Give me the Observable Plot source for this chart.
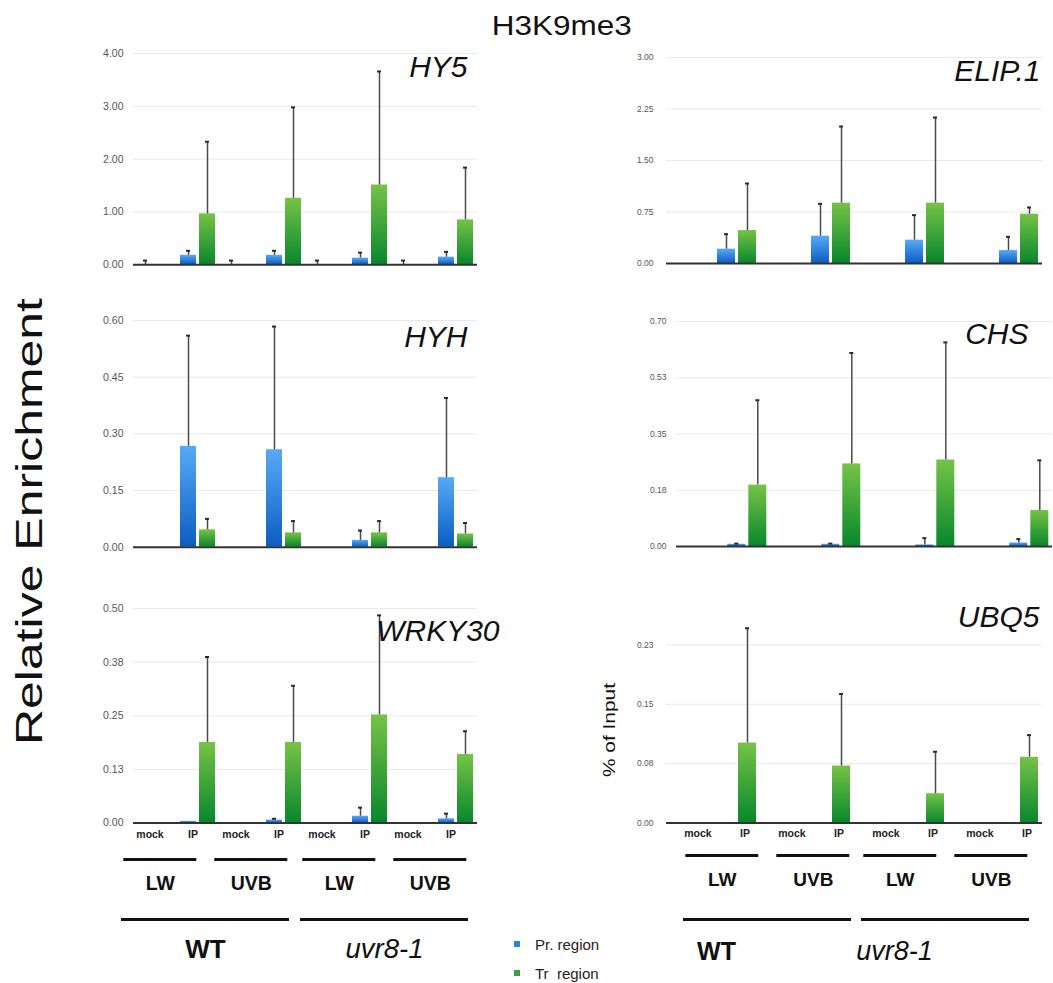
<!DOCTYPE html>
<html><head><meta charset="utf-8">
<script src="https://cdn.jsdelivr.net/npm/d3@7"></script>
<script src="https://cdn.jsdelivr.net/npm/@observablehq/plot@0.6"></script>
<style>
body{margin:0;background:#fff;overflow:hidden;}
#root{position:relative;width:1053px;height:983px;overflow:hidden;font-family:"Liberation Sans",Arial,Helvetica,sans-serif;}
#root > svg{position:absolute;}
.legend-item{position:absolute;display:flex;align-items:center;font-size:15px;color:#222;white-space:pre;}
.legend-item span.sw{display:inline-block;width:6px;height:6px;margin-right:15px;}
</style></head>
<body>
<svg width="0" height="0" style="position:absolute">
  <defs>
    <linearGradient id="gPr" x1="0" y1="0" x2="0" y2="1">
      <stop offset="0" stop-color="#58aaf6"/><stop offset="1" stop-color="#0b5dc2"/>
    </linearGradient>
    <linearGradient id="gTr" x1="0" y1="0" x2="0" y2="1">
      <stop offset="0" stop-color="#76c346"/><stop offset="1" stop-color="#08872c"/>
    </linearGradient>
  </defs>
</svg>
<div id="root"></div>
<script>
// ---------- data ----------
const categories = ["WT LW mock","WT LW IP","WT UVB mock","WT UVB IP","uvr8-1 LW mock","uvr8-1 LW IP","uvr8-1 UVB mock","uvr8-1 UVB IP"];
const categoryLabels = ["mock","IP","mock","IP","mock","IP","mock","IP"];
const seriesNames = ["Pr","Tr"];
const seriesLegend = ["Pr. region","Tr  region"];
const seriesFills = ["url(#gPr)","url(#gTr)"];
const seriesColors = ["#2f82e3","#38a23a"];
const genotypes = ["WT","uvr8-1"];
const lights = ["LW","UVB"];

const hy5Pr    = [0, 0.18, 0, 0.18, 0, 0.126, 0, 0.145];
const hy5PrErr = [0.08, 0.085, 0.08, 0.085, 0.08, 0.104, 0.08, 0.10];
const hy5Tr    = [0, 0.965, 0, 1.26, 0, 1.51, 0, 0.85];
const hy5TrErr = [null, 1.365, null, 1.72, null, 2.15, null, 0.99];
const hy5Ticks = [0, 1, 2, 3, 4];
const hy5TickLabels = ["0.00","1.00","2.00","3.00","4.00"];

const elipPr    = [0, 0.209, 0, 0.398, 0, 0.34, 0, 0.189];
const elipPrErr = [null, 0.218, null, 0.471, null, 0.364, null, 0.199];
const elipTr    = [0, 0.48, 0, 0.879, 0, 0.879, 0, 0.718];
const elipTrErr = [null, 0.685, null, 1.116, null, 1.247, null, 0.098];
const elipTicks = [0, 0.75, 1.5, 2.25, 3];
const elipTickLabels = ["0.00","0.75","1.50","2.25","3.00"];

const hyhPr    = [0, 0.267, 0, 0.258, 0, 0.018, 0, 0.184];
const hyhPrErr = [null, 0.293, null, 0.326, null, 0.026, null, 0.211];
const hyhTr    = [0, 0.046, 0, 0.038, 0, 0.038, 0, 0.035];
const hyhTrErr = [null, 0.029, null, 0.031, null, 0.031, null, 0.029];
const hyhTicks = [0, 0.15, 0.3, 0.45, 0.6];
const hyhTickLabels = ["0.00","0.15","0.30","0.45","0.60"];

const chsPr    = [0, 0.007, 0, 0.007, 0, 0.005, 0, 0.011];
const chsPrErr = [null, 0.002, null, 0.002, null, 0.021, null, 0.012];
const chsTr    = [0, 0.191, 0, 0.257, 0, 0.269, 0, 0.112];
const chsTrErr = [null, 0.264, null, 0.345, null, 0.366, null, 0.156];
const chsTicks = [0, 0.175, 0.35, 0.525, 0.7];
const chsTickLabels = ["0.00","0.18","0.35","0.53","0.70"];

const wrkyPr    = [0, 0.004, 0, 0.007, 0, 0.016, 0, 0.010];
const wrkyPrErr = [null, null, null, 0.003, null, 0.02, null, 0.012];
const wrkyTr    = [0, 0.188, 0, 0.188, 0, 0.252, 0, 0.16];
const wrkyTrErr = [null, 0.199, null, 0.132, null, 0.232, null, 0.054];
const wrkyTicks = [0, 0.125, 0.25, 0.375, 0.5];
const wrkyTickLabels = ["0.00","0.13","0.25","0.38","0.50"];

const ubqPr    = [0, 0, 0, 0, 0, 0, 0, 0];
const ubqPrErr = [null, null, null, null, null, null, null, null];
const ubqTr    = [0, 0.101, 0, 0.072, 0, 0.037, 0, 0.083];
const ubqTrErr = [null, 0.145, null, 0.091, null, 0.053, null, 0.028];
const ubqTicks = [0, 0.075, 0.15, 0.225];
const ubqTickLabels = ["0.00","0.08","0.15","0.23"];

// ---------- layout ----------
const FONT = '"Liberation Sans", Arial, Helvetica, sans-serif';
const columns = {
  left:  {left: 70,  right: 520,  tickFont: 10.5, tickPad: 10, capInset: 6, fxDx: -5, fxPad: 7.5},
  right: {left: 600, right: 1056, tickFont: 8.5,  tickPad: 13, capInset: 7, fxDx: 8,  fxPad: 7}
};
const panels = [
  {title:"HY5",    pr:hy5Pr,  prErr:hy5PrErr,  tr:hy5Tr,  trErr:hy5TrErr,  yMax:4,    ticks:hy5Ticks,  labels:hy5TickLabels,  col:"left",  frame:[132,52.7,478,264],     tdx:-10, tdy:2.3},
  {title:"ELIP.1", pr:elipPr, prErr:elipPrErr, tr:elipTr, trErr:elipTrErr, yMax:3,    ticks:elipTicks, labels:elipTickLabels, col:"right", frame:[663,57.3,1045,263.3],  tdx:-2,  tdy:2},
  {title:"HYH",    pr:hyhPr,  prErr:hyhPrErr,  tr:hyhTr,  trErr:hyhTrErr,  yMax:0.6,  ticks:hyhTicks,  labels:hyhTickLabels,  col:"left",  frame:[132,320,478,546.7],    tdx:-10, tdy:5},
  {title:"CHS",    pr:chsPr,  prErr:chsPrErr,  tr:chsTr,  trErr:chsTrErr,  yMax:0.7,  ticks:chsTicks,  labels:chsTickLabels,  col:"right", frame:[672.7,321,1054.5,546], tdx:-24, tdy:1, tickPad:10},
  {title:"WRKY30", pr:wrkyPr, prErr:wrkyPrErr, tr:wrkyTr, trErr:wrkyTrErr, yMax:0.5,  ticks:wrkyTicks, labels:wrkyTickLabels, col:"left",  frame:[132,607.7,478,822.3],  tdx:22,  tdy:11, xLabels:true},
  {title:"UBQ5",   pr:ubqPr,  prErr:ubqPrErr,  tr:ubqTr,  trErr:ubqTrErr,  yMax:0.3,  ticks:ubqTicks,  labels:ubqTickLabels,  col:"right", frame:[663,585.2,1045,822.7], tdx:-3,  tdy:20.5, xLabels:true}
];

const root = document.getElementById("root");
const catLabel = new Map(categories.map((c, i) => [c, categoryLabels[i]]));

function place(svg, left, top) {
  svg.style.left = left + "px";
  svg.style.top = top + "px";
  root.append(svg);
}

for (const p of panels) {
  const c = columns[p.col];
  const [l, t, r, b] = p.frame;
  const mt = 30, mb = p.xLabels ? 30 : 10;
  const rows = [];
  categories.forEach((cat, i) => {
    rows.push({cat, series: "Pr", value: p.pr[i], err: p.prErr[i]});
    rows.push({cat, series: "Tr", value: p.tr[i], err: p.trErr[i]});
  });
  const withErr = rows.filter(d => d.err != null);
  const tickLabel = new Map(p.ticks.map((v, i) => [v, p.labels[i]]));
  const marks = [
    Plot.ruleY(p.ticks.filter(v => v > 0), {stroke: "#e9e9e9", strokeWidth: 1}),
    Plot.barY(rows, {fx: "cat", x: "series", y: "value", fill: "series"}),
    Plot.ruleX(withErr, {fx: "cat", x: "series", y1: "value", y2: d => d.value + d.err, stroke: "#4a4a4a", strokeWidth: 1.5}),
    Plot.tickY(withErr, {fx: "cat", x: "series", y: d => d.value + d.err, stroke: "#2a2a2a", strokeWidth: 2, insetLeft: c.capInset, insetRight: c.capInset}),
    Plot.ruleY([0], {stroke: "#333", strokeWidth: 2}),
    Plot.axisY({ticks: p.ticks, tickFormat: d => tickLabel.get(d), tickSize: 0, tickPadding: p.tickPad ?? c.tickPad, fontSize: c.tickFont, fill: "#555", label: null}),
    Plot.text([p.title], {facet: "super", frameAnchor: "top-right", lineAnchor: "top", dx: p.tdx, dy: p.tdy, fontSize: 30, fontStyle: "italic", fill: "#111"})
  ];
  if (p.xLabels) {
    marks.push(Plot.axisFx({anchor: "bottom", tickSize: 0, tickPadding: c.fxPad, tickFormat: d => catLabel.get(d), fontSize: 10.5, fontWeight: "bold", fill: "#222", dx: c.fxDx, label: null}));
  }
  const svg = Plot.plot({
    width: c.right - c.left,
    height: (b - t) + mt + mb,
    marginLeft: l - c.left,
    marginRight: c.right - r,
    marginTop: mt,
    marginBottom: mb,
    style: {background: "transparent", overflow: "visible", fontFamily: FONT},
    fx: p.xLabels ? {domain: categories, paddingInner: 0, paddingOuter: 0, label: null}
                  : {domain: categories, paddingInner: 0, paddingOuter: 0, axis: null},
    x: {domain: seriesNames, paddingInner: 0.15, paddingOuter: 0.16, axis: null},
    y: {domain: [0, p.yMax]},
    color: {domain: seriesNames, range: seriesFills},
    marks
  });
  place(svg, c.left, t - mt);
}

// ---------- group annotations below the bottom panels ----------
const groups = genotypes.flatMap(g => lights.map(li => ({genotype: g, light: li})));
const genoRows = genotypes.map(g => ({genotype: g}));
const rowNames = ["line1", "label1", "line2", "label2"];
const annotations = [
  {left: 100, right: 500,  frameL: 120.7, frameR: 468.3, top: 840, yRange: [18.3, 110], dy1: -5.6, f1: 19.5, fWT: 26, fUvr: 27.5, dx2: 0, fxGap: 0.062},
  {left: 600, right: 1053, frameL: 681.7, frameR: 1029,  top: 840, yRange: [14, 111],   dy1: -8,   f1: 19,   fWT: 25, fUvr: 27,   dx2: -51, fxGap: 0.058}
];
for (const a of annotations) {
  const svg = Plot.plot({
    width: a.right - a.left,
    height: 983 - a.top,
    marginLeft: a.frameL - a.left,
    marginRight: a.right - a.frameR,
    marginTop: 0, marginBottom: 0,
    style: {background: "transparent", overflow: "visible", fontFamily: FONT},
    fx: {domain: genotypes, paddingInner: a.fxGap, paddingOuter: 0, axis: null},
    x: {domain: lights, paddingInner: 0.2, paddingOuter: 0.02, axis: null},
    y: {type: "point", domain: rowNames, range: a.yRange, padding: 0, axis: null},
    marks: [
      Plot.tickY(groups, {fx: "genotype", x: "light", y: () => "line1", stroke: "#111", strokeWidth: 3}),
      Plot.text(groups, {fx: "genotype", x: "light", y: () => "label1", dy: a.dy1, text: "light", fontSize: a.f1, fontWeight: "bold", fill: "#111"}),
      Plot.ruleY(genoRows, {fx: "genotype", y: () => "line2", stroke: "#111", strokeWidth: 3}),
      Plot.text(genoRows, {filter: d => d.genotype === genotypes[0], fx: "genotype", y: () => "label2", text: "genotype", fontSize: a.fWT, fontWeight: "bold", fill: "#111", dx: a.dx2}),
      Plot.text(genoRows, {filter: d => d.genotype === genotypes[1], fx: "genotype", y: () => "label2", text: "genotype", fontSize: a.fUvr, fontStyle: "italic", fill: "#111", dx: a.dx2})
    ]
  });
  place(svg, a.left, a.top);
}

// ---------- legend ----------
const legendPos = [{x: 514, y: 944}, {x: 514, y: 973}];
seriesLegend.forEach((name, i) => {
  const d = document.createElement("div");
  d.className = "legend-item";
  d.style.left = legendPos[i].x + "px";
  d.style.top = (legendPos[i].y - 9) + "px";
  d.style.height = "18px";
  d.innerHTML = `<span class="sw" style="background:${seriesColors[i]}"></span>${name}`;
  root.append(d);
});

// ---------- titles ----------
const ns = "http://www.w3.org/2000/svg";
const ov = document.createElementNS(ns, "svg");
ov.setAttribute("width", 1053); ov.setAttribute("height", 983);
ov.style.left = "0px"; ov.style.top = "0px"; ov.style.pointerEvents = "none";
function addText(str, attrs) {
  const t = document.createElementNS(ns, "text");
  for (const k in attrs) t.setAttribute(k, attrs[k]);
  t.setAttribute("font-family", FONT);
  t.textContent = str;
  ov.append(t);
}
addText("H3K9me3", {x: 491.7, y: 35, "font-size": 28, fill: "#111", textLength: 140, lengthAdjust: "spacingAndGlyphs"});
addText("Relative Enrichment", {transform: "translate(42,521.5) rotate(-90)", "text-anchor": "middle", "font-size": 36, fill: "#111", textLength: 447, lengthAdjust: "spacingAndGlyphs"});
addText("% of Input", {transform: "translate(614.7,730) rotate(-90)", "text-anchor": "middle", "font-size": 16, fill: "#111", textLength: 94, lengthAdjust: "spacingAndGlyphs"});
root.append(ov);
</script>
</body></html>
